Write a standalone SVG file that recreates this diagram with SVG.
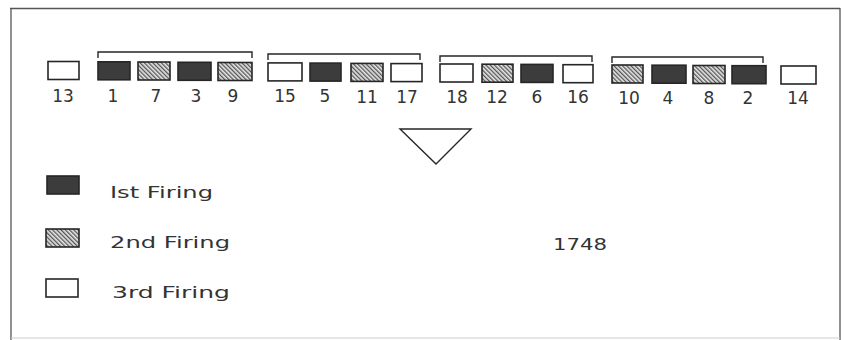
<svg xmlns="http://www.w3.org/2000/svg" width="845" height="340" viewBox="0 0 845 340">
<style>
.b{stroke:#262626;stroke-width:1.6}
.w{fill:#fff}
.d{fill:#3c3c3c}
.h{fill:url(#hatch)}
.ln{fill:none;stroke:#262626;stroke-width:1.4}
.fr{fill:none;stroke:#555;stroke-width:1.3}
text{font-family:"DejaVu Sans","Liberation Sans",sans-serif;fill:#333}
.n{font-size:17px;text-anchor:middle}
.lg{font-size:16px}
</style>
<defs>
<pattern id="hatch" patternUnits="userSpaceOnUse" width="3" height="3" patternTransform="rotate(-45)">
<rect width="3" height="3" fill="#e6e6e6"/>
<rect width="1.3" height="3" fill="#555"/>
</pattern>
</defs>
<g id="frame">
<line class="fr" x1="10" y1="8.5" x2="840" y2="8.5"/>
<line class="fr" x1="11" y1="8" x2="11" y2="340"/>
<line class="fr" x1="840" y1="8" x2="840" y2="340"/>
<line x1="11" y1="338" x2="840" y2="338" stroke="#ccc" stroke-width="1"/>
</g>
<g id="connectors">
<path class="ln" d="M98,58 V52 H252 V58"/>
<path class="ln" d="M268,60 V54 H420 V60"/>
<path class="ln" d="M440,62 V56 H592 V62"/>
<path class="ln" d="M612,63 V57 H763 V63"/>
</g>
<g id="n13"><rect class="b w" x="48" y="61.5" width="31" height="18"/><text class="n" x="63" y="101.5">13</text></g>
<g id="n1"><rect class="b d" x="98" y="61.8" width="32" height="18"/><text class="n" x="113" y="101.7">1</text></g>
<g id="n7"><rect class="b h" x="138" y="62" width="32" height="18"/><text class="n" x="156" y="101.8">7</text></g>
<g id="n3"><rect class="b d" x="178" y="62.3" width="33" height="18"/><text class="n" x="196" y="102">3</text></g>
<g id="n9"><rect class="b h" x="218" y="62.5" width="34" height="18"/><text class="n" x="233" y="102.1">9</text></g>
<g id="n15"><rect class="b w" x="268" y="62.9" width="34" height="18"/><text class="n" x="285" y="102.3">15</text></g>
<g id="n5"><rect class="b d" x="310" y="63.1" width="31" height="18"/><text class="n" x="325" y="102.4">5</text></g>
<g id="n11"><rect class="b h" x="351" y="63.4" width="32" height="18"/><text class="n" x="367" y="102.6">11</text></g>
<g id="n17"><rect class="b w" x="391" y="63.6" width="31" height="18"/><text class="n" x="407" y="102.7">17</text></g>
<g id="n18"><rect class="b w" x="440" y="64" width="33" height="18"/><text class="n" x="457" y="102.9">18</text></g>
<g id="n12"><rect class="b h" x="482" y="64.2" width="31" height="18"/><text class="n" x="497" y="103">12</text></g>
<g id="n6"><rect class="b d" x="521" y="64.4" width="32" height="18"/><text class="n" x="537" y="103.2">6</text></g>
<g id="n16"><rect class="b w" x="563" y="64.7" width="30" height="18"/><text class="n" x="578" y="103.3">16</text></g>
<g id="n10"><rect class="b h" x="612" y="65" width="31" height="18"/><text class="n" x="629" y="103.5">10</text></g>
<g id="n4"><rect class="b d" x="652" y="65.2" width="34" height="18"/><text class="n" x="668" y="103.6">4</text></g>
<g id="n8"><rect class="b h" x="693" y="65.5" width="32" height="18"/><text class="n" x="709" y="103.8">8</text></g>
<g id="n2"><rect class="b d" x="732" y="65.7" width="34" height="18"/><text class="n" x="748" y="103.9">2</text></g>
<g id="n14"><rect class="b w" x="781" y="66" width="35" height="18"/><text class="n" x="798" y="104.1">14</text></g>
<g id="triangle"><polygon points="400,129 471,129 436,164" fill="none" stroke="#262626" stroke-width="1.4"/></g>
<g id="legend1"><rect class="b d" x="47" y="176" width="32" height="18"/><text class="lg" x="110" y="198" textLength="103" lengthAdjust="spacingAndGlyphs">Ist Firing</text></g>
<g id="legend2"><rect class="b h" x="46" y="229" width="33" height="18"/><text class="lg" x="110" y="248" textLength="120" lengthAdjust="spacingAndGlyphs">2nd Firing</text></g>
<g id="legend3"><rect class="b w" x="46" y="279" width="32" height="18"/><text class="lg" x="112" y="298" textLength="118" lengthAdjust="spacingAndGlyphs">3rd Firing</text></g>
<g id="year"><text class="lg" x="553" y="250" textLength="54" lengthAdjust="spacingAndGlyphs">1748</text></g>
</svg>
